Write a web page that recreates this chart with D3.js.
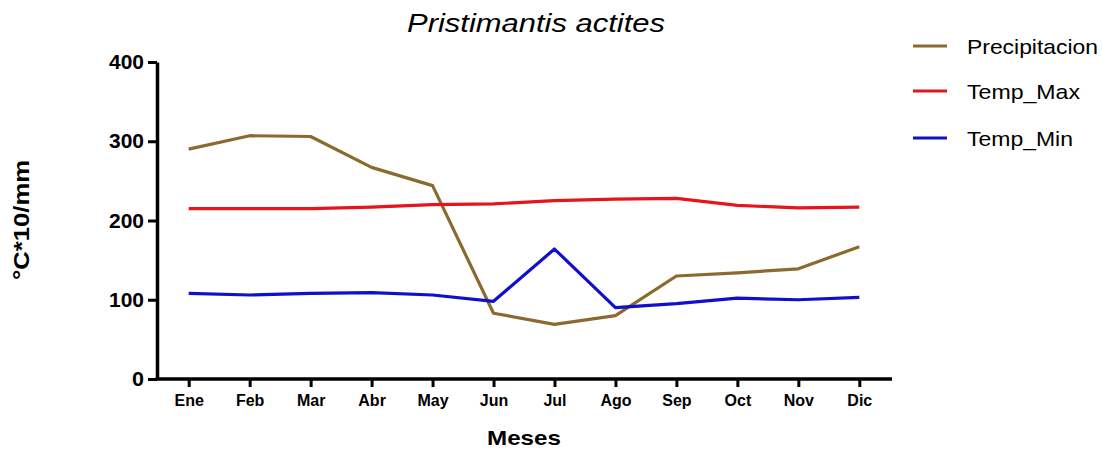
<!DOCTYPE html>
<html>
<head>
<meta charset="utf-8">
<script src="https://cdn.jsdelivr.net/npm/d3@7"></script>
<style>
  html, body { margin: 0; padding: 0; background: #fff; }
  svg { display: block; font-family: "Liberation Sans", Arial, sans-serif; }
</style>
</head>
<body>
<svg id="chart" width="1102" height="450"></svg>
<script>
const months = ["Ene","Feb","Mar","Abr","May","Jun","Jul","Ago","Sep","Oct","Nov","Dic"];
const precipitacion = [290, 307, 306, 267, 244, 83, 69, 80, 130, 134, 139, 167];
const tempMax = [215, 215, 215, 217, 220, 221, 225, 227, 228, 219, 216, 217];
const tempMin = [108, 106, 108, 109, 106, 98, 164, 90, 95, 102, 100, 103];
const yTicks = [0, 100, 200, 300, 400];
const seriesNames = ["Precipitacion", "Temp_Max", "Temp_Min"];
const seriesColors = ["#8c6a2f", "#e8141c", "#1010cc"];
const seriesValues = [precipitacion, tempMax, tempMin];

const svg = d3.select("#chart");

const x = d3.scalePoint().domain(months).range([157, 891]).padding(0.52);
const y = d3.scaleLinear().domain([0, 400]).range([379, 62]);

// Y axis
const yAxis = svg.append("g").attr("transform", "translate(157,0)")
  .call(d3.axisLeft(y).tickValues(yTicks).tickSize(9).tickPadding(4).tickSizeOuter(0));
yAxis.select(".domain").attr("stroke", "#000").attr("stroke-width", 3.5);
yAxis.selectAll(".tick line").attr("stroke", "#000").attr("stroke-width", 3);
yAxis.selectAll(".tick text").attr("fill", "#000").attr("font-size", 21).attr("font-weight", "bold")
  .attr("font-family", "Liberation Sans, Arial, sans-serif").attr("textLength", 35).attr("lengthAdjust", "spacingAndGlyphs");
yAxis.selectAll(".tick").filter(d => d === 0).select("text").attr("textLength", 12);

// X axis
const xAxis = svg.append("g").attr("transform", "translate(0,379)")
  .call(d3.axisBottom(x).tickSize(8).tickPadding(8).tickSizeOuter(0));
xAxis.select(".domain").attr("stroke", "#000").attr("stroke-width", 3.5)
  .attr("d", "M155.5,0H892");
xAxis.selectAll(".tick line").attr("stroke", "#000").attr("stroke-width", 3);
xAxis.selectAll(".tick text").attr("fill", "#000").attr("font-size", 16).attr("font-weight", "bold")
  .attr("font-family", "Liberation Sans, Arial, sans-serif");

// Lines
const line = d3.line().x((d, i) => x(months[i])).y(d => y(d));
seriesValues.forEach((vals, k) => {
  svg.append("path").datum(vals)
    .attr("fill", "none")
    .attr("stroke", seriesColors[k])
    .attr("stroke-width", 3.2)
    .attr("stroke-linejoin", "round")
    .attr("d", line);
});

// Title
svg.append("text").attr("x", 407).attr("y", 32)
  .attr("font-size", 26).attr("font-style", "italic")
  .attr("textLength", 258).attr("lengthAdjust", "spacingAndGlyphs")
  .text("Pristimantis actites");

// Y label
svg.append("text").attr("transform", "translate(29,220) rotate(-90)")
  .attr("text-anchor", "middle").attr("font-size", 22).attr("font-weight", "bold")
  .attr("textLength", 120).attr("lengthAdjust", "spacingAndGlyphs")
  .text("°C*10/mm");

// X label
svg.append("text").attr("x", 524).attr("y", 445)
  .attr("text-anchor", "middle").attr("font-size", 21).attr("font-weight", "bold")
  .attr("textLength", 74).attr("lengthAdjust", "spacingAndGlyphs")
  .text("Meses");

// Legend
const legendY = [46, 91, 138];
const legendW = [131, 113, 106];
seriesNames.forEach((name, k) => {
  svg.append("line").attr("x1", 913).attr("x2", 947)
    .attr("y1", legendY[k]).attr("y2", legendY[k])
    .attr("stroke", seriesColors[k]).attr("stroke-width", 3);
  svg.append("text").attr("x", 967).attr("y", legendY[k] + 8)
    .attr("font-size", 21)
    .attr("textLength", legendW[k]).attr("lengthAdjust", "spacingAndGlyphs")
    .text(name);
});
</script>
</body>
</html>
